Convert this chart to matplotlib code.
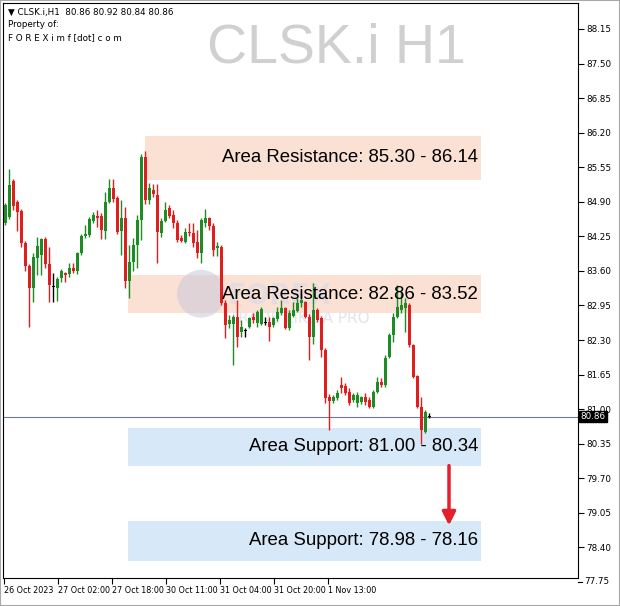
import numpy as np
import matplotlib.pyplot as plt
from matplotlib.patches import Rectangle, Ellipse
from matplotlib.transforms import blended_transform_factory

# velas H1 (apertura, maximo, minimo, cierre)
opens = [84.50, 84.61, 85.29, 84.90, 84.73, 84.12, 83.69, 83.28, 83.84, 83.90,
         84.20, 83.73, 83.30, 83.28, 83.47, 83.56, 83.54, 83.65, 83.60, 83.94,
         84.26, 84.28, 84.54, 84.63, 84.63, 84.35, 84.90, 85.16, 84.97, 84.35,
         84.60, 83.41, 83.77, 84.09, 84.56, 85.74, 84.93, 85.12, 85.03, 84.31,
         84.54, 84.78, 84.65, 84.50, 84.22, 84.14, 84.33, 84.31, 84.14, 83.94,
         84.50, 84.60, 84.44, 84.03, 84.05, 83.00, 82.60, 82.60, 82.73, 82.45,
         82.47, 82.55, 82.73, 82.62, 82.60, 82.62, 82.64, 82.58, 82.70, 82.81,
         82.90, 82.53, 82.75, 82.85, 83.00, 83.02, 82.73, 82.36, 82.87, 82.71,
         82.11, 81.23, 81.15, 81.21, 81.45, 81.44, 81.32, 81.17, 81.12, 81.13,
         81.23, 81.17, 81.04, 81.32, 81.51, 81.45, 81.98, 82.39, 82.73, 82.87,
         82.90, 82.96, 82.21, 81.62, 81.04, 80.57, 80.86]
highs = [84.88, 85.52, 85.33, 84.93, 84.76, 84.16, 83.73, 83.94, 84.24, 84.22,
         84.24, 84.05, 83.56, 83.49, 83.64, 83.58, 83.75, 83.75, 83.96, 84.29,
         84.46, 84.61, 84.71, 84.75, 84.69, 85.08, 85.33, 85.33, 85.01, 84.93,
         84.80, 84.09, 84.22, 84.65, 85.80, 85.86, 85.25, 85.23, 85.23, 84.60,
         84.90, 84.84, 84.75, 84.56, 84.28, 84.41, 84.50, 84.50, 84.37, 84.60,
         84.76, 84.61, 84.50, 84.14, 84.09, 83.05, 82.77, 82.77, 83.05, 82.68,
         82.53, 82.73, 82.81, 82.87, 82.92, 82.73, 82.73, 82.73, 82.92, 83.05,
         82.92, 82.87, 83.02, 83.09, 83.17, 83.03, 82.79, 83.37, 82.90, 82.75,
         82.15, 81.28, 81.27, 81.36, 81.60, 81.49, 81.40, 81.30, 81.32, 81.25,
         81.30, 81.23, 81.36, 81.60, 81.59, 82.02, 82.43, 82.81, 83.34, 83.24,
         83.09, 83.00, 82.23, 81.64, 81.23, 80.98, 80.92]
lows = [84.46, 84.58, 84.75, 84.35, 84.05, 83.60, 82.55, 83.02, 83.52, 83.52,
        83.65, 83.02, 83.02, 83.03, 83.39, 83.39, 83.49, 83.56, 83.54, 83.90,
        84.22, 84.24, 84.50, 84.43, 84.20, 84.20, 84.88, 84.90, 84.29, 83.90,
        83.28, 83.09, 83.60, 83.65, 84.18, 84.86, 84.86, 84.99, 83.75, 84.24,
        84.52, 84.60, 84.41, 84.14, 84.14, 84.12, 84.26, 84.05, 83.84, 83.75,
        84.43, 84.37, 83.88, 83.88, 82.96, 82.34, 82.53, 81.83, 82.17, 82.36,
        82.36, 82.53, 82.62, 82.55, 82.58, 82.58, 82.28, 82.55, 82.66, 82.77,
        82.51, 82.49, 82.73, 82.83, 82.92, 82.71, 81.92, 82.23, 82.64, 81.98,
        81.12, 80.61, 81.12, 81.17, 81.30, 81.27, 81.08, 81.13, 81.04, 81.10,
        81.08, 81.02, 81.02, 81.30, 81.42, 81.42, 81.96, 82.26, 82.71, 82.81,
        82.45, 82.17, 81.59, 81.02, 80.34, 80.55, 80.84]
closes = [84.84, 85.22, 84.82, 84.71, 84.12, 83.69, 83.28, 83.86, 84.07, 84.20,
          83.73, 83.34, 83.30, 83.45, 83.60, 83.52, 83.65, 83.60, 83.94, 84.26,
          84.29, 84.58, 84.65, 84.60, 84.37, 84.90, 85.16, 84.95, 84.33, 84.60,
          83.41, 83.77, 84.09, 84.56, 85.74, 84.93, 85.16, 85.05, 84.33, 84.54,
          84.75, 84.63, 84.50, 84.18, 84.16, 84.33, 84.31, 84.12, 83.94, 84.56,
          84.60, 84.44, 83.99, 84.07, 83.00, 82.58, 82.68, 82.73, 82.36, 82.55,
          82.47, 82.71, 82.68, 82.83, 82.88, 82.62, 82.55, 82.71, 82.83, 82.90,
          82.53, 82.81, 82.87, 83.00, 83.05, 82.73, 82.36, 82.87, 82.68, 82.11,
          81.21, 81.15, 81.23, 81.30, 81.40, 81.30, 81.12, 81.27, 81.27, 81.23,
          81.13, 81.04, 81.32, 81.51, 81.45, 81.96, 82.39, 82.73, 82.92, 82.96,
          83.00, 82.21, 81.60, 81.04, 80.61, 80.95, 80.86]

# escala de precios y etiquetas de tiempo
price_ticks = [88.15, 87.50, 86.85, 86.20, 85.55, 84.90, 84.25, 83.60, 82.95,
               82.30, 81.65, 81.00, 80.35, 79.70, 79.05, 78.40, 77.75]
time_pos = [-0.25, 13.25, 26.75, 40.25, 53.75, 67.25, 80.75]
time_labels = ['26 Oct 2023', '27 Oct 02:00', '27 Oct 18:00', '30 Oct 11:00',
               '31 Oct 04:00', '31 Oct 20:00', '1 Nov 13:00']
last_price = 80.86

# zonas (inicio, fin, precio bajo, precio alto, texto)
zone_start = [35, 30.75, 30.75, 30.75]
zone_end = [119, 119, 119, 119]
zone_low = [85.31, 82.81, 79.93, 78.14]
zone_high = [86.14, 83.52, 80.65, 78.90]
zone_text = ['Area Resistance: 85.30 - 86.14', 'Area Resistance: 82.86 - 83.52',
             'Area Support: 81.00 - 80.34', 'Area Support: 78.98 - 78.16']
zone_color = ['#fbe1d4', '#fbe1d4', '#d7e8f8', '#d7e8f8']

arrow_x = 111
arrow_from = 79.99
arrow_to = 78.76

y_min, y_max = 77.824, 88.639

fig = plt.figure(figsize=(6.2, 6.06), dpi=100)
fig.patch.set_facecolor('white')
ax = fig.add_axes([3 / 620, 28 / 606, 575 / 620, 575 / 606])

# zonas
for x0, x1, lo, hi, col in zip(zone_start, zone_end, zone_low, zone_high, zone_color):
    ax.add_patch(Rectangle((x0, lo), x1 - x0, hi - lo, facecolor=col,
                           edgecolor='none', zorder=1))

# marca de agua
ax.add_patch(Ellipse((49, 83.17), 12, 0.9, facecolor='#c9c9dc', edgecolor='none',
                     alpha=0.55, zorder=1.5))
ax.text(55.5, 83.12, 'FOREX', fontsize=20, fontweight='bold', color='#d8d8e6',
        alpha=0.6, va='center', ha='left', zorder=1.5)
ax.text(56, 82.70, 'TRADE LIKE A PRO', fontsize=11, color='#e4e4ee',
        va='center', ha='left', zorder=1.5)

# linea del precio actual
ax.axhline(last_price, color='#6f7c8c', linewidth=0.8, zorder=2)

# velas
x = np.arange(len(opens))
o = np.array(opens)
c = np.array(closes)
colors = np.where(c > o, '#1f8b24', np.where(c < o, '#e01e1e', '#000000'))
ax.vlines(x, lows, highs, colors=colors, linewidth=1, zorder=3)
body = np.where(np.abs(c - o) < 0.01, 0.012, c - o)
ax.bar(x, body, bottom=o, width=0.75, color=colors, edgecolor='none', zorder=4)

# textos de zonas
for lo, hi, txt in zip(zone_low, zone_high, zone_text):
    ax.text(118.3, (lo + hi) / 2, txt, fontsize=13.4, family='Liberation Sans',
            ha='right', va='center', color='black', zorder=5)

# flecha
ax.annotate('', xy=(arrow_x, arrow_to), xytext=(arrow_x, arrow_from),
            arrowprops=dict(arrowstyle='-|>', color='#e3202b', lw=2.5,
                            mutation_scale=20), zorder=6)

# titulo grande
ax.text(0.805, 0.897, 'CLSK.i H1', transform=ax.transAxes, fontsize=40,
        family='Liberation Sans', color='#d0d0d0', ha='right', va='baseline',
        zorder=0.5)

# cabecera
ax.text(0.009, 0.984, '\u25bc CLSK.i,H1  80.86 80.92 80.84 80.86',
        transform=ax.transAxes, fontsize=6.3, va='center', ha='left')
ax.text(0.009, 0.963, 'Property of:', transform=ax.transAxes, fontsize=6.3,
        va='center', ha='left')
ax.text(0.009, 0.940, 'F O R E X i m f [dot] c o m', transform=ax.transAxes,
        fontsize=6.3, va='center', ha='left')

# ejes
ax.set_xlim(-0.5, 143.25)
ax.set_ylim(y_min, y_max)
ax.yaxis.tick_right()
ax.set_yticks(price_ticks[:-1])
ax.set_yticklabels([f'{p:.2f}' for p in price_ticks[:-1]])
ax.set_xticks(time_pos)
ax.set_xticklabels(time_labels)
for lab in ax.get_xticklabels():
    lab.set_ha('left')
ax.tick_params(axis='y', labelsize=6.3, length=4, width=0.8, pad=2)
ax.tick_params(axis='x', labelsize=5.8, length=4, width=0.8, pad=2)
for s in ax.spines.values():
    s.set_linewidth(0.8)
    s.set_color('black')

# la ultima etiqueta de precio queda justo bajo el marco
tr = blended_transform_factory(ax.transAxes, ax.transData)
low_tick = price_ticks[-1]
ax.plot([1.0, 1.007], [low_tick, low_tick], color='black', lw=0.8,
        transform=tr, clip_on=False)
ax.text(1.0115, low_tick, f'{low_tick:.2f}', transform=tr, fontsize=6.3,
        va='center', ha='left', clip_on=False)

# etiqueta del precio actual
ax.text(1.004, last_price, f'{last_price:.2f}', transform=tr, fontsize=6.3,
        color='white', va='center', ha='left',
        bbox=dict(boxstyle='square,pad=0.15', facecolor='black',
                  edgecolor='black'), zorder=7, clip_on=False)

# borde exterior
fig.add_artist(Rectangle((0, 0), 1, 1, transform=fig.transFigure,
                         fill=False, edgecolor='#a8a8a8', linewidth=1.5))

fig.savefig('out.png', dpi=100)
